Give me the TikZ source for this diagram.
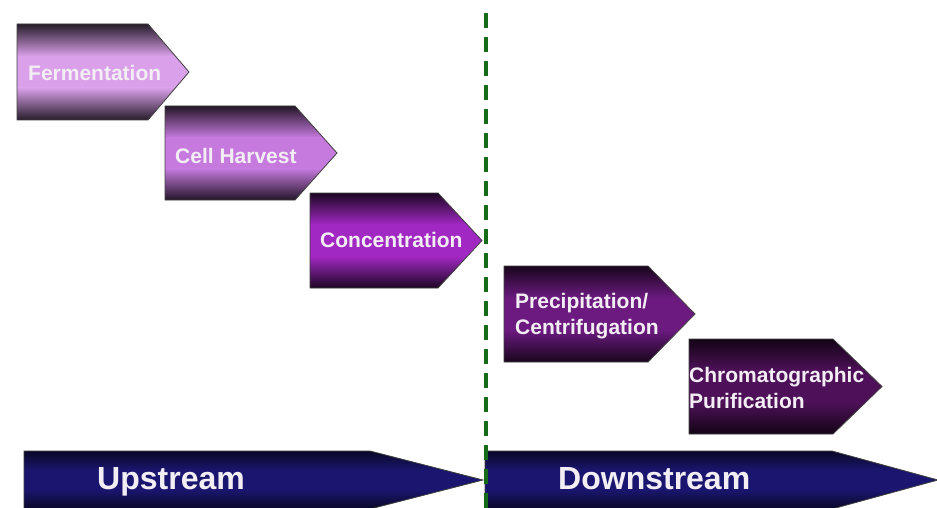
\documentclass[tikz,border=0pt]{standalone}
\usepackage{fontspec}
\setmainfont{Liberation Sans}
\definecolor{cferm}{RGB}{218,160,234}
\definecolor{charv}{RGB}{198,122,222}
\definecolor{cconc}{RGB}{162,40,196}
\definecolor{cprec}{RGB}{108,26,128}
\definecolor{cchro}{RGB}{78,16,88}
\definecolor{cnavy}{RGB}{26,22,112}
\definecolor{cgreen}{RGB}{22,108,22}
\definecolor{ctext}{RGB}{242,238,244}
\tikzset{
  outl/.style={draw=black!75, line width=0.8pt, line join=miter},
  lbl/.style={text=ctext, font=\fontsize{21}{26}\selectfont\bfseries, inner sep=0pt, align=left, anchor=west},
  biglbl/.style={text=ctext, font=\fontsize{32}{38}\selectfont\bfseries, inner sep=0pt, anchor=base west},
  divider/.style={draw=cgreen, line width=4pt, dash pattern=on 15pt off 9pt}
}
% #1 left, #2 top, #3 body right, #4 tip, #5 bottom, #6 mid colour, #7 darkness
\newcommand\mkstage[7]{%
  \pgfmathsetmacro\stA{#2+0.33*(#5-#2)}%
  \pgfmathsetmacro\stB{#2+0.67*(#5-#2)}%
  \pgfmathsetmacro\stM{(#2+#5)/2}%
  \begin{scope}
    \clip (#1,-#2) -- (#3,-#2) -- (#4,-\stM) -- (#3,-#5) -- (#1,-#5) -- cycle;
    \shade[top color=#6!#7!black, bottom color=#6] (#1,-#2) rectangle (#4,-\stA-0.6);
    \fill[#6] (#1,-\stA) rectangle (#4,-\stB);
    \shade[top color=#6, bottom color=#6!#7!black] (#1,-\stB+0.6) rectangle (#4,-#5);
  \end{scope}
  \draw[outl] (#1,-#2) -- (#3,-#2) -- (#4,-\stM) -- (#3,-#5) -- (#1,-#5) -- cycle;
}
\begin{document}
\begin{tikzpicture}[x=1pt,y=1pt]
\clip (0,0) rectangle (937,-508);
\fill[white] (0,0) rectangle (937,-508);

\mkstage{17}{24}{148}{189}{120}{cferm}{18}
\mkstage{165}{106}{295}{337}{200}{charv}{18}
\mkstage{310}{193}{438}{482}{288}{cconc}{18}
\mkstage{504}{266}{648}{695}{362}{cprec}{22}
\mkstage{689}{339}{833}{882}{434}{cchro}{25}
\mkstage{24}{451}{370}{483}{509}{cnavy}{35}
\mkstage{485}{451}{832}{938}{509}{cnavy}{35}

\node[lbl] (ferm) at (28,-73) {Fermentation};
\node[lbl] (harv) at (175,-156) {Cell Harvest};
\node[lbl] (conc) at (320,-240) {Concentration};
\node[lbl] (prec) at (515,-316) {Precipitation/\\Centrifugation};
\node[lbl] (chro) at (689,-388) {Chromatographic\\Purification};
\node[biglbl] (up) at (97,-489) {Upstream};
\node[biglbl] (down) at (558,-489) {Downstream};

\coordinate (dtop) at (486,-13);
\coordinate (dbot) at (486,-512);
\draw[divider] (dtop) -- (dbot);
\end{tikzpicture}
\end{document}
